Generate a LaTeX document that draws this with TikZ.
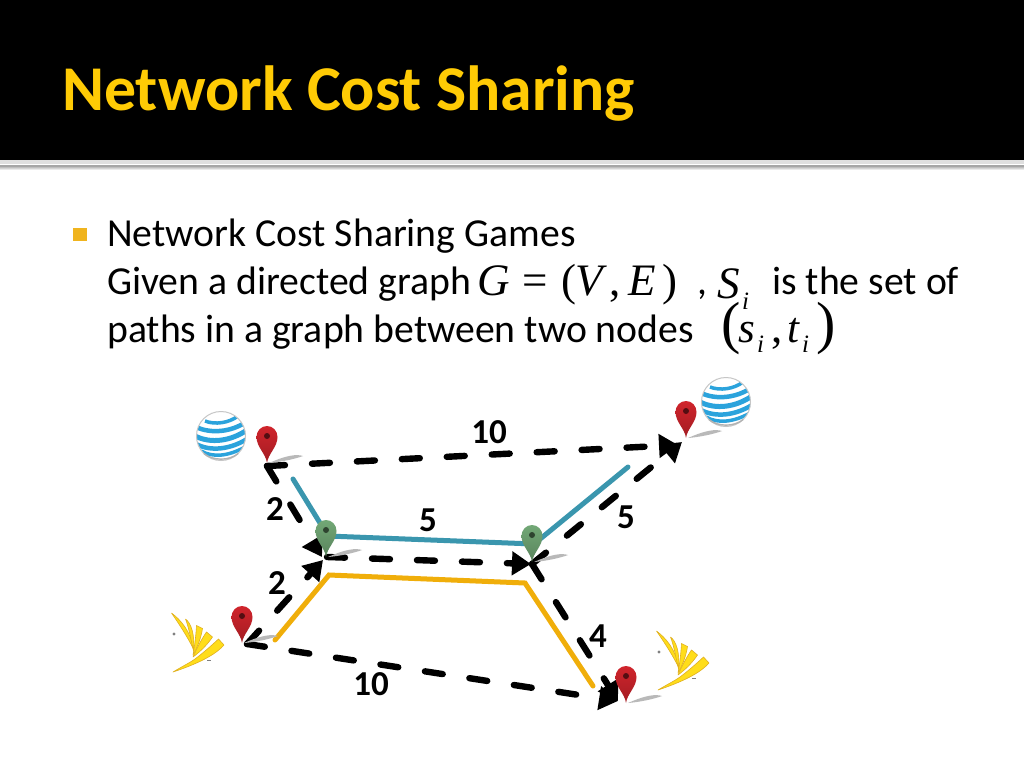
\documentclass[tikz,border=0pt]{standalone}
\usepackage{fontspec}
\setmainfont{Carlito}
\newfontfamily\mathserif{Liberation Serif}
\usetikzlibrary{arrows.meta}
\definecolor{titleyellow}{HTML}{FFCB05}
\definecolor{bulletyellow}{HTML}{F0B41E}
\definecolor{tealpath}{HTML}{3A96AE}
\definecolor{goldpath}{HTML}{F0AE0A}
\definecolor{attblue}{HTML}{2BA3DC}
\definecolor{sprintyellow}{HTML}{FFDD1A}
\definecolor{sprintedge}{HTML}{E0B020}
\definecolor{pinred}{HTML}{D0242C}
\definecolor{pingreen}{HTML}{72A876}
\newcommand{\fsz}[1]{\fontsize{#1}{#1}\selectfont}
\tikzset{
  x=1pt,y=-1pt,
  bodytext/.style={anchor=base west,inner sep=0pt,font=\fsz{39.7}},
  mathtext/.style={anchor=base west,inner sep=0pt,font=\fsz{45}\mathserif\itshape},
  mathup/.style={anchor=base west,inner sep=0pt,font=\fsz{45}\mathserif},
  mathsmall/.style={anchor=base west,inner sep=0pt,font=\fsz{43}\mathserif\itshape},
  subtext/.style={anchor=base west,inner sep=0pt,font=\fsz{25}\mathserif\itshape},
  bigparen/.style={anchor=base west,inner sep=0pt,font=\fsz{58}\mathserif},
  costlabel/.style={inner sep=0pt,font=\fsz{35}\bfseries},
  costedge/.style={line width=6.4pt,line cap=round,dash pattern=on 18pt off 27pt,-{Triangle[length=19pt,width=23pt]},black},
  teal route/.style={line width=5pt,line cap=round,line join=round,tealpath},
  gold route/.style={line width=5pt,line cap=round,line join=miter,goldpath},
  pin/.pic={
    \fill[gray!55] (2,0) .. controls (20,-8) and (30,-9) .. (36,-7) .. controls (28,-4) and (14,-1) .. (2,0) -- cycle;
    \shade[top color=#1,bottom color=#1!78!black]
      (0,0) .. controls (-1,-9) and (-10.5,-16) .. (-10.5,-26)
      .. controls (-10.5,-32) and (-6,-37) .. (0,-37)
      .. controls (6,-37) and (10.5,-32) .. (10.5,-26)
      .. controls (10.5,-16) and (1,-9) .. (0,0) -- cycle;
    \fill[#1!40!black] (0,-27) circle[radius=3];
  },
  globe/.pic={
    \fill[white] (0,0) circle[radius=24.5];
    \begin{scope}
      \clip (0,0) circle[radius=24.5];
      \draw[attblue,line width=3.5pt] (-16,-15) .. controls (-6,-11) and (8,-13) .. (17,-20);
      \draw[attblue,line width=4.5pt] (-25,-9) .. controls (-10,-2) and (10,-4) .. (25,-14);
      \draw[attblue,line width=5pt] (-26,0) .. controls (-10,8) and (10,5) .. (26,-6);
      \draw[attblue,line width=4.5pt] (-25,8) .. controls (-10,16) and (10,13) .. (26,3);
      \draw[attblue,line width=3.5pt] (-20,15) .. controls (-8,22) and (8,20) .. (24,11);
    \end{scope}
    \draw[gray!45,line width=1pt] (0,0) circle[radius=24.5];
    \draw[gray!60,line width=1.4pt] (-17,17.6) .. controls (-8,25) and (8,25) .. (17,17.6);
  },
  sprintfan/.pic={
    \begin{scope}[fill=sprintyellow,draw=sprintedge,line width=.6pt,line join=round]
      \filldraw (-1.5,-59) .. controls (8,-52) and (18,-40) .. (20.5,-23) .. controls (14,-36) and (6,-48) .. (-1.5,-59) -- cycle;
      \filldraw (12.5,-53) .. controls (18,-49) and (22,-38) .. (20.5,-21) .. controls (18,-32) and (16,-44) .. (12.5,-53) -- cycle;
      \filldraw (23.5,-46.5) -- (29.5,-43.5) .. controls (28,-34) and (25,-26) .. (20,-17) .. controls (22,-28) and (23,-38) .. (23.5,-46.5) -- cycle;
      \filldraw (33.5,-40) -- (39.5,-35) .. controls (34,-27) and (28,-21) .. (20,-15) .. controls (24,-24) and (28,-32) .. (33.5,-40) -- cycle;
      \filldraw (45.5,-33) -- (51,-27) .. controls (44,-19) and (30,-10) .. (0,0) .. controls (10,-6) and (18,-10) .. (22,-13) .. controls (30,-19) and (38,-26) .. (45.5,-33) -- cycle;
    \end{scope}
    \fill[gray] (1,-38) circle[radius=1.6];
    \fill[gray] (33.5,-12) rectangle (38,-10.8);
  },
}
\begin{document}
\begin{tikzpicture}
\useasboundingbox (0,0) rectangle (1024,768);
\fill[white] (0,0) rectangle (1024,768);
% header
\fill[black] (0,0) rectangle (1024,160);
\fill[gray!25] (0,160) rectangle (1024,164);
\fill[gray!70] (0,164.5) rectangle (1024,167);
\shade[top color=gray!50,bottom color=white] (0,167) rectangle (1024,170);
\node[anchor=base west,inner sep=0pt,font=\fsz{63.8}\bfseries,text=titleyellow] (title) at (62,110) {Network Cost Sharing};
% bullet text
\fill[bulletyellow] (73,228) rectangle (87,241);
\node[bodytext] (line1) at (107,246) {Network Cost Sharing Games};
\node[bodytext] (line2) at (107,294) {Given a directed graph};
\node[mathtext] (mG) at (477,295) {G};
\node[mathup] (mEq) at (522,295) {=};
\node[mathup] (mLp) at (561,295) {(};
\node[mathtext] (mV) at (575,295) {V};
\node[mathup] (mCa) at (609,295) {,};
\node[mathtext] (mE) at (628,295) {E};
\node[mathup] (mRp) at (662,295) {)};
\node[bodytext] (mCb) at (697,294) {,};
\node[mathtext] (mS) at (717,298) {S};
\node[subtext] (mSi) at (742,309) {i};
\node[bodytext] (line2b) at (772,294) {is the set of};
\node[bodytext] (line3) at (107,342) {paths in a graph between two nodes};
\node[bigparen] (pL) at (721,342) {(};
\node[mathsmall] (ms) at (738,342) {s};
\node[subtext] (msi) at (757,352) {i};
\node[mathup] (mCc) at (771,342) {,};
\node[mathsmall] (mt) at (787,342) {t};
\node[subtext] (mti) at (802,352) {i};
\node[bigparen] (pR) at (816,342) {)};
% named places
\coordinate (A) at (267,466);
\coordinate (B) at (247,644);
\coordinate (C) at (327,557);
\coordinate (Cin) at (322,557);
\coordinate (Cin2) at (323,560);
\coordinate (D) at (532,564);
\coordinate (Din) at (531,564);
\coordinate (E) at (678,445);
\coordinate (E2) at (682,442);
\coordinate (F) at (618,701);
\coordinate (t1) at (293,479);
\coordinate (t2) at (328,536);
\coordinate (t3) at (534,544);
\coordinate (t4) at (628,467);
\coordinate (g1) at (275,640);
\coordinate (g2) at (329,575);
\coordinate (g3) at (525,583);
\coordinate (g4) at (593,686);
% routes
\draw[teal route] (t1) -- (t2) -- (t3) -- (t4);
\draw[gold route] (g1) -- (g2) -- (g3) -- (g4);
% logos
\pic at (221,436) {globe};
\pic at (726,402) {globe};
\pic at (173,672) {sprintfan};
\pic at (658,690) {sprintfan};
% cost edges
\draw[costedge] (A) -- (E);
\draw[costedge] (A) -- (Cin);
\draw[costedge] (B) -- (Cin2);
\draw[costedge] (C) -- (Din);
\draw[costedge] (D) -- (E2);
\draw[costedge] (D) -- (F);
\draw[costedge] (B) -- (F);
% pins
\pic at (267,463) {pin={pinred}};
\pic at (242,643) {pin={pinred}};
\pic at (686,438) {pin={pinred}};
\pic at (626,703) {pin={pinred}};
\pic at (326,557) {pin={pingreen}};
\pic at (532,562) {pin={pingreen}};
% labels
\node[costlabel] (c1) at (489,432) {10};
\node[costlabel] (c2) at (275,509) {2};
\node[costlabel] (c3) at (428,520) {5};
\node[costlabel] (c4) at (626,517) {5};
\node[costlabel] (c5) at (277,583) {2};
\node[costlabel] (c6) at (598,636) {4};
\node[costlabel] (c7) at (371,684) {10};
\end{tikzpicture}
\end{document}
